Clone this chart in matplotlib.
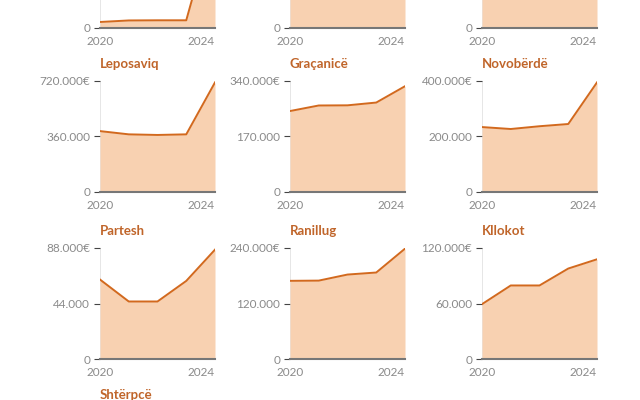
import matplotlib.pyplot as plt

years = [2020, 2021, 2022, 2023, 2024]

# top row is cut off by the crop: only the bottom of those panels shows
top_a = [39000, 49000, 50000, 50000, 720000]
top_b = [260000, 275000, 280000, 285000, 330000]
top_c = [300000, 310000, 315000, 320000, 380000]
top_max = [720000, 340000, 400000]

names = ["Leposaviq", "Graçanicë", "Novobërdë", "Partesh", "Ranillug", "Kllokot"]
leposaviq = [395000, 374000, 370000, 374000, 711000]
gracanice = [248000, 265000, 265500, 274000, 324000]
novoberde = [234000, 227000, 237000, 245000, 395000]
partesh = [63000, 45600, 45600, 61900, 86700]
ranillug = [169000, 169500, 182600, 187000, 238600]
kllokot = [59300, 79500, 79500, 97800, 107800]
y_max = [720000, 340000, 400000, 88000, 240000, 120000]
next_title = "Shtërpcë"

LINE = "#d2691e"
FILL = "#f8d1b1"
TITLE = "#c0652a"
GREY = "#8a8a8a"

plt.rcParams['font.family'] = ['Lato', 'DejaVu Sans']


def fmt(v):
    return f"{v:,.0f}".replace(",", ".")


def panel(fig, rect, values, ymax, title=None, cropped=False):
    ax = fig.add_axes(rect)
    ax.fill_between(years, values, color=FILL, lw=0, zorder=2)
    ax.plot(years, values, color=LINE, lw=1.4, zorder=3)
    ax.set_xlim(2020, 2024)
    ax.set_ylim(0, ymax)
    if cropped:
        # only the zero tick is inside the picture
        ax.set_yticks([0])
        ax.set_yticklabels(["0"])
    else:
        ax.set_yticks([0, ymax / 2, ymax])
        ax.set_yticklabels(["0", fmt(ymax / 2), fmt(ymax) + "€"])
    ax.set_xticks([2020, 2024])
    labels = ax.set_xticklabels(["2020", "2024"])
    labels[1].set_ha("right")
    ax.tick_params(axis="y", length=4, width=0.8, color="#444444",
                   labelsize=8.5, labelcolor=GREY, pad=3)
    ax.tick_params(axis="x", length=0, labelsize=8.5, labelcolor=GREY, pad=6)
    ax.xaxis.grid(True, color="#e6e6e6", lw=0.7, zorder=1)
    for s in ["left", "right", "top"]:
        ax.spines[s].set_visible(False)
    ax.spines["bottom"].set_color("#777777")
    ax.spines["bottom"].set_linewidth(1.5)
    ax.spines["bottom"].set_zorder(4)
    if title:
        ax.text(0, 1.1, title, transform=ax.transAxes, color=TITLE,
                fontsize=9.5, fontweight="bold", ha="left", va="bottom")
    return ax


def main():
    fig = plt.figure(figsize=(6.4, 4), dpi=100)
    lefts = [100 / 640, 290 / 640, 482 / 640]
    width = 115 / 640
    height = 111 / 400
    bottoms = [1 - 28 / 400, 1 - 192 / 400, 1 - 359 / 400]

    # row 1 (cropped at the top edge)
    for i, vals in enumerate([top_a, top_b, top_c]):
        panel(fig, [lefts[i], bottoms[0], width, height], vals, top_max[i],
              cropped=True)

    data = [leposaviq, gracanice, novoberde, partesh, ranillug, kllokot]
    for k, vals in enumerate(data):
        row, col = 1 + k // 3, k % 3
        panel(fig, [lefts[col], bottoms[row], width, height], vals,
              y_max[k], names[k])

    fig.text(lefts[0], 1 - 395 / 400, next_title, color=TITLE, fontsize=9.5,
             fontweight="bold", ha="left", va="center")

    fig.savefig("out.png", dpi=100)


if __name__ == "__main__":
    main()
